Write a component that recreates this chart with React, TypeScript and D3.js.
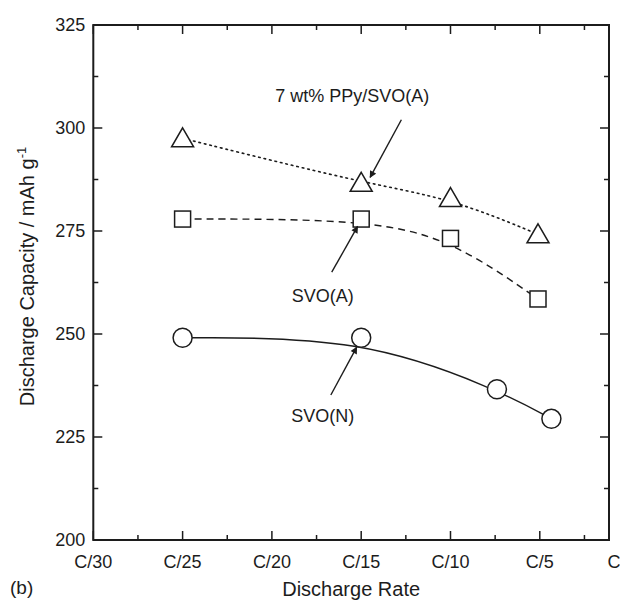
import React from "react";
import * as d3 from "d3";

// ---- data ----
const xTickLabels = ["C/30", "C/25", "C/20", "C/15", "C/10", "C/5"];
const xEndLabel = "C";
const yTicks = [200, 225, 250, 275, 300, 325];

const ppyX = [1, 3, 4, 4.98];
const ppyY = [297.5, 286.7, 283.0, 274.2];

const svoAX = [1, 3, 4, 4.98];
const svoAY = [277.9, 277.9, 273.2, 258.5];

const svoNX = [1, 3, 4.52, 5.13];
const svoNY = [249.1, 249.1, 236.6, 229.4];

const annotations = [
  { text: "7 wt% PPy/SVO(A)", tx: 2.9, ty: 306.2, fx: 3.45, fy: 302.0, ex: 3.1, ey: 288.0 },
  { text: "SVO(A)", tx: 2.57, ty: 257.7, fx: 2.67, fy: 265.0, ex: 2.96, ey: 276.1 },
  { text: "SVO(N)", tx: 2.57, ty: 228.6, fx: 2.66, fy: 235.2, ex: 2.95, ey: 246.8 },
];

// ---- layout ----
const W = 620, H = 601;
const left = 93.3, right = 609, top = 25, bottom = 540;
const ink = "#1c1c1c";
const font = "'Liberation Sans', Arial, Helvetica, sans-serif";

export default function App() {
  const x = d3.scaleLinear().domain([0, 5.775]).range([left, right]);
  const y = d3.scaleLinear().domain([200, 325]).range([bottom, top]);

  const line = d3
    .line<[number, number]>()
    .x((d) => x(d[0]))
    .y((d) => y(d[1]))
    .curve(d3.curveBasis);

  const zip = (a: number[], b: number[]) => a.map((v, i) => [v, b[i]] as [number, number]);
  const ppy = zip(ppyX, ppyY);
  const svoA = zip(svoAX, svoAY);
  const svoN = zip(svoNX, svoNY);

  const xMajor = d3.range(0, 6, 1);
  const xMinor = d3.range(0.5, 5.8, 1);
  const yMajor = yTicks;
  const yMinor = d3.range(212.5, 325, 25);
  const maj = 9, mn = 5;

  const triPath = (cx: number, cy: number) => {
    const s = 11, h = 19;
    return `M${cx},${cy - h * 0.55}L${cx + s},${cy + h * 0.45}L${cx - s},${cy + h * 0.45}Z`;
  };

  return (
    <div style={{ position: "fixed", left: 0, top: 0 }}>
      <svg width={W} height={H} style={{ display: "block", background: "#fff" }} fontFamily={font}>
        <defs>
          <marker id="ah" viewBox="0 0 10 10" refX="9" refY="5" markerWidth="9" markerHeight="7" orient="auto" markerUnits="userSpaceOnUse">
            <path d="M0,0L10,5L0,10Z" fill={ink} />
          </marker>
        </defs>

        {/* ticks */}
        {xMajor.map((v) => (
          <g key={"xM" + v}>
            <line x1={x(v)} x2={x(v)} y1={bottom} y2={bottom - maj} stroke={ink} strokeWidth={1.5} />
            <line x1={x(v)} x2={x(v)} y1={top} y2={top + maj} stroke={ink} strokeWidth={1.5} />
          </g>
        ))}
        {xMinor.map((v) => (
          <g key={"xm" + v}>
            <line x1={x(v)} x2={x(v)} y1={bottom} y2={bottom - mn} stroke={ink} strokeWidth={1.5} />
            <line x1={x(v)} x2={x(v)} y1={top} y2={top + mn} stroke={ink} strokeWidth={1.5} />
          </g>
        ))}
        {yMajor.map((v) => (
          <g key={"yM" + v}>
            <line x1={left} x2={left + maj} y1={y(v)} y2={y(v)} stroke={ink} strokeWidth={1.5} />
            <line x1={right} x2={right - maj} y1={y(v)} y2={y(v)} stroke={ink} strokeWidth={1.5} />
          </g>
        ))}
        {yMinor.map((v) => (
          <g key={"ym" + v}>
            <line x1={left} x2={left + mn} y1={y(v)} y2={y(v)} stroke={ink} strokeWidth={1.5} />
            <line x1={right} x2={right - mn} y1={y(v)} y2={y(v)} stroke={ink} strokeWidth={1.5} />
          </g>
        ))}

        {/* frame */}
        <rect x={left} y={top} width={right - left} height={bottom - top} fill="none" stroke={ink} strokeWidth={2} />

        {/* tick labels */}
        {xTickLabels.map((t, i) => (
          <text key={t} x={x(xMajor[i])} y={568} textAnchor="middle" fontSize={18} fill={ink}>{t}</text>
        ))}
        <text x={x(5.775) + 5} y={568} textAnchor="middle" fontSize={18} fill={ink}>{xEndLabel}</text>
        {yMajor.map((v) => (
          <text key={"yl" + v} x={left - 8} y={y(v)} dy="0.35em" textAnchor="end" fontSize={18} fill={ink}>{v}</text>
        ))}

        {/* axis titles */}
        <text x={(left + right) / 2} y={596} textAnchor="middle" fontSize={20} fill={ink}>Discharge Rate</text>
        <text transform={`translate(34,${(top + bottom) / 2 - 6}) rotate(-90)`} textAnchor="middle" fontSize={20} fill={ink}>
          Discharge Capacity / mAh g<tspan dy="-8" fontSize={13}>-1</tspan>
        </text>
        <text x={10} y={594} fontSize={19} fill={ink}>(b)</text>

        {/* lines */}
        <path d={line(ppy) || ""} fill="none" stroke={ink} strokeWidth={1.6} strokeDasharray="1.6 4" strokeLinecap="round" />
        <path d={line(svoA) || ""} fill="none" stroke={ink} strokeWidth={1.4} strokeDasharray="7 5" />
        <path d={line(svoN) || ""} fill="none" stroke={ink} strokeWidth={1.4} />

        {/* markers */}
        {ppy.map((d, i) => (
          <path key={"t" + i} d={triPath(x(d[0]), y(d[1]))} fill="#fff" stroke={ink} strokeWidth={1.5} />
        ))}
        {svoA.map((d, i) => (
          <rect key={"s" + i} x={x(d[0]) - 8} y={y(d[1]) - 8} width={16} height={16} fill="#fff" stroke={ink} strokeWidth={1.5} />
        ))}
        {svoN.map((d, i) => (
          <circle key={"c" + i} cx={x(d[0])} cy={y(d[1])} r={9.5} fill="#fff" stroke={ink} strokeWidth={1.5} />
        ))}

        {/* annotations */}
        {annotations.map((a) => (
          <g key={a.text}>
            <line x1={x(a.fx)} y1={y(a.fy)} x2={x(a.ex)} y2={y(a.ey)} stroke={ink} strokeWidth={1.4} markerEnd="url(#ah)" />
            <text x={x(a.tx)} y={y(a.ty)} textAnchor="middle" fontSize={18} fill={ink}>{a.text}</text>
          </g>
        ))}
      </svg>
    </div>
  );
}
